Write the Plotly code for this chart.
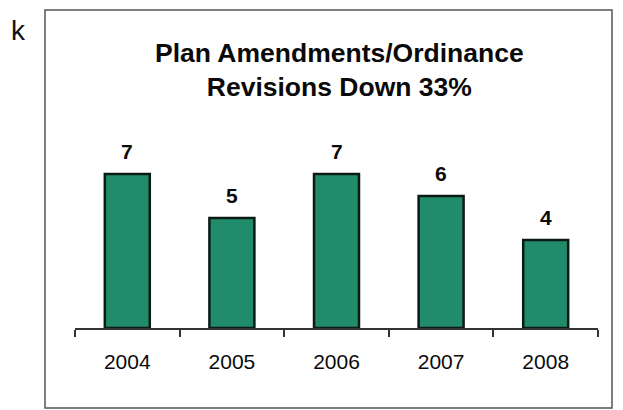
import plotly.graph_objects as go

years = ["2004", "2005", "2006", "2007", "2008"]
counts = [7, 5, 7, 6, 4]
title_lines = ["Plan Amendments/Ordinance", "Revisions Down 33%"]

W, H = 623, 410
L, R, T, B = 75, 25, 130, 82
pw, ph = W - L - R, H - T - B

def px_x(x):
    return (x - L) / pw

def px_y(y):
    return (H - B - y) / ph

FONT = "Liberation Sans, Arial"

fig = go.Figure()
fig.add_trace(go.Bar(
    x=years, y=counts,
    marker=dict(color="#208c6c", line=dict(color="#0c1a14", width=2.5)),
    width=0.43,
    hoverinfo="skip",
))

for i, v in enumerate(counts):
    fig.add_annotation(x=i, y=v, text=f"<b>{v}</b>", showarrow=False,
                       yanchor="bottom", yshift=9,
                       font=dict(family=FONT, size=21, color="#0a0a0a"))

fig.add_annotation(xref="paper", yref="paper", x=px_x(339), y=px_y(70),
                   text="<b>" + "<br>".join(title_lines) + "</b>", showarrow=False,
                   xanchor="center", yanchor="middle",
                   font=dict(family=FONT, size=26.5, color="#0a0a0a"))

fig.add_annotation(xref="paper", yref="paper", x=px_x(18), y=px_y(30),
                   text="k", showarrow=False, xanchor="center", yanchor="middle",
                   font=dict(family=FONT, size=28, color="#111"))

fig.add_shape(type="rect", xref="paper", yref="paper",
              x0=px_x(45), x1=px_x(612), y0=px_y(408), y1=px_y(10),
              line=dict(color="#555", width=1.5), fillcolor="rgba(0,0,0,0)")

fig.update_layout(
    width=W, height=H,
    margin=dict(l=L, r=R, t=T, b=B),
    paper_bgcolor="white", plot_bgcolor="white",
    showlegend=False,
    xaxis=dict(
        type="category", range=[-0.5, len(years) - 0.5],
        showgrid=False, showline=True, linecolor="#333", linewidth=1.5,
        ticks="outside", tickson="boundaries", ticklen=7, tickcolor="#333", tickwidth=1.5,
        tickfont=dict(family=FONT, size=21, color="#0a0a0a"),
        ticklabelstandoff=14, tickangle=0,
    ),
    yaxis=dict(range=[0, 9], visible=False, showgrid=False, zeroline=False),
)

fig.write_html("out.html", config={"displayModeBar": False},
               post_script="document.body.style.margin='0';document.body.style.padding='0';")
